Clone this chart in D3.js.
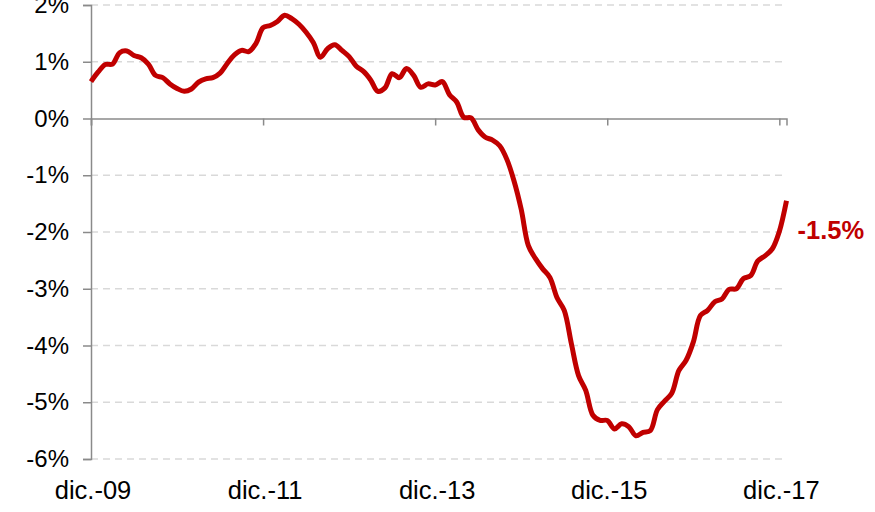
<!DOCTYPE html>
<html>
<head>
<meta charset="utf-8">
<script src="https://cdn.jsdelivr.net/npm/d3@7"></script>
<style>
  body { margin: 0; background: #fff; }
  text { font-family: Arial, "Liberation Sans", sans-serif; }
</style>
</head>
<body>
<div id="chart"></div>
<script>
// Chart size
const svgWidth = 875;
const svgHeight = 512;

// Monthly values (%), from dic.-09 to ene.-18
const values = [
  0.65, 0.82, 0.95, 0.96, 1.16, 1.19, 1.11, 1.07, 0.96, 0.76, 0.72, 0.61,
  0.53, 0.48, 0.52, 0.64, 0.70, 0.72, 0.80, 0.97, 1.12, 1.20, 1.18, 1.32,
  1.60, 1.64, 1.71, 1.82, 1.76, 1.66, 1.52, 1.34, 1.08, 1.23, 1.30, 1.20,
  1.09, 0.92, 0.83, 0.68, 0.48, 0.54, 0.79, 0.72, 0.88, 0.76, 0.55, 0.61,
  0.59, 0.65, 0.42, 0.29, 0.02, 0.01, -0.20, -0.33, -0.38, -0.48, -0.72, -1.10,
  -1.60, -2.24, -2.47, -2.65, -2.80, -3.16, -3.38, -3.97, -4.53, -4.79, -5.23, -5.32,
  -5.32, -5.47, -5.38, -5.43, -5.59, -5.53, -5.50, -5.13, -4.98, -4.84, -4.44, -4.26,
  -3.94, -3.47, -3.38, -3.23, -3.18, -3.01, -3.00, -2.82, -2.77, -2.51, -2.42, -2.30,
  -1.99, -1.45
];

// x tick positions (month index) and labels
const xTicks = [0, 24, 48, 72, 96];
const xTickLabels = ['dic.-09', 'dic.-11', 'dic.-13', 'dic.-15', 'dic.-17'];

// y ticks
const yTicks = [2, 1, 0, -1, -2, -3, -4, -5, -6];

const lastLabel = '-1.5%';

const svg = d3.select('#chart')
  .append('svg')
  .attr('width', svgWidth)
  .attr('height', svgHeight);

const xScale = d3.scaleLinear()
  .domain([0, values.length - 1])
  .range([91, 786.5]);

const yScale = d3.scaleLinear()
  .domain([-6, 2])
  .range([459, 5]);

const axisColor = '#8a8a8a';

// dashed gridlines
svg.append('g')
  .selectAll('line')
  .data(yTicks.filter(d => d !== 0))
  .enter()
  .append('line')
  .attr('x1', xScale(0))
  .attr('x2', 783)
  .attr('y1', d => yScale(d))
  .attr('y2', d => yScale(d))
  .attr('stroke', '#d9d9d9')
  .attr('stroke-width', 1.5)
  .attr('stroke-dasharray', '7,5');

// y axis
const yAxis = d3.axisLeft(yScale)
  .tickValues(yTicks)
  .tickSize(8)
  .tickPadding(14)
  .tickFormat(d => d + '%');

const gy = svg.append('g')
  .attr('transform', 'translate(' + xScale(0) + ', 0)')
  .call(yAxis);
gy.select('.domain').attr('stroke', axisColor).attr('stroke-width', 1.5);
gy.selectAll('.tick line').attr('stroke', axisColor).attr('stroke-width', 1.5);
gy.selectAll('.tick text')
  .attr('font-size', '24px')
  .attr('fill', '#000')
  .style('font-family', 'Arial, "Liberation Sans", sans-serif');

// x axis on the zero line
const xAxis = d3.axisBottom(xScale)
  .tickValues(xTicks)
  .tickSize(7)
  .tickFormat('');

const gx = svg.append('g')
  .attr('transform', 'translate(0, ' + yScale(0) + ')')
  .call(xAxis);
gx.select('.domain').attr('stroke', axisColor).attr('stroke-width', 1.5);
gx.selectAll('.tick line').attr('stroke', axisColor).attr('stroke-width', 1.5);

// x labels at the bottom
svg.append('g')
  .selectAll('text')
  .data(xTicks)
  .enter()
  .append('text')
  .attr('x', d => xScale(d) + 2)
  .attr('y', 499)
  .attr('text-anchor', 'middle')
  .attr('font-size', '25.5px')
  .attr('fill', '#000')
  .text((d, i) => xTickLabels[i]);

// the line
const line = d3.line()
  .x((d, i) => xScale(i))
  .y(d => yScale(d))
  .curve(d3.curveCatmullRom.alpha(0.5));

svg.append('path')
  .datum(values)
  .attr('d', line)
  .attr('fill', 'none')
  .attr('stroke', '#c00000')
  .attr('stroke-width', 5)
  .attr('stroke-linejoin', 'round');

// end label
const n = values.length - 1;
svg.append('text')
  .attr('x', xScale(n) + 11)
  .attr('y', yScale(values[n - 1]) + 8)
  .attr('font-size', '25.5px')
  .attr('font-weight', 'bold')
  .attr('fill', '#c00000')
  .text(lastLabel);
</script>
</body>
</html>
